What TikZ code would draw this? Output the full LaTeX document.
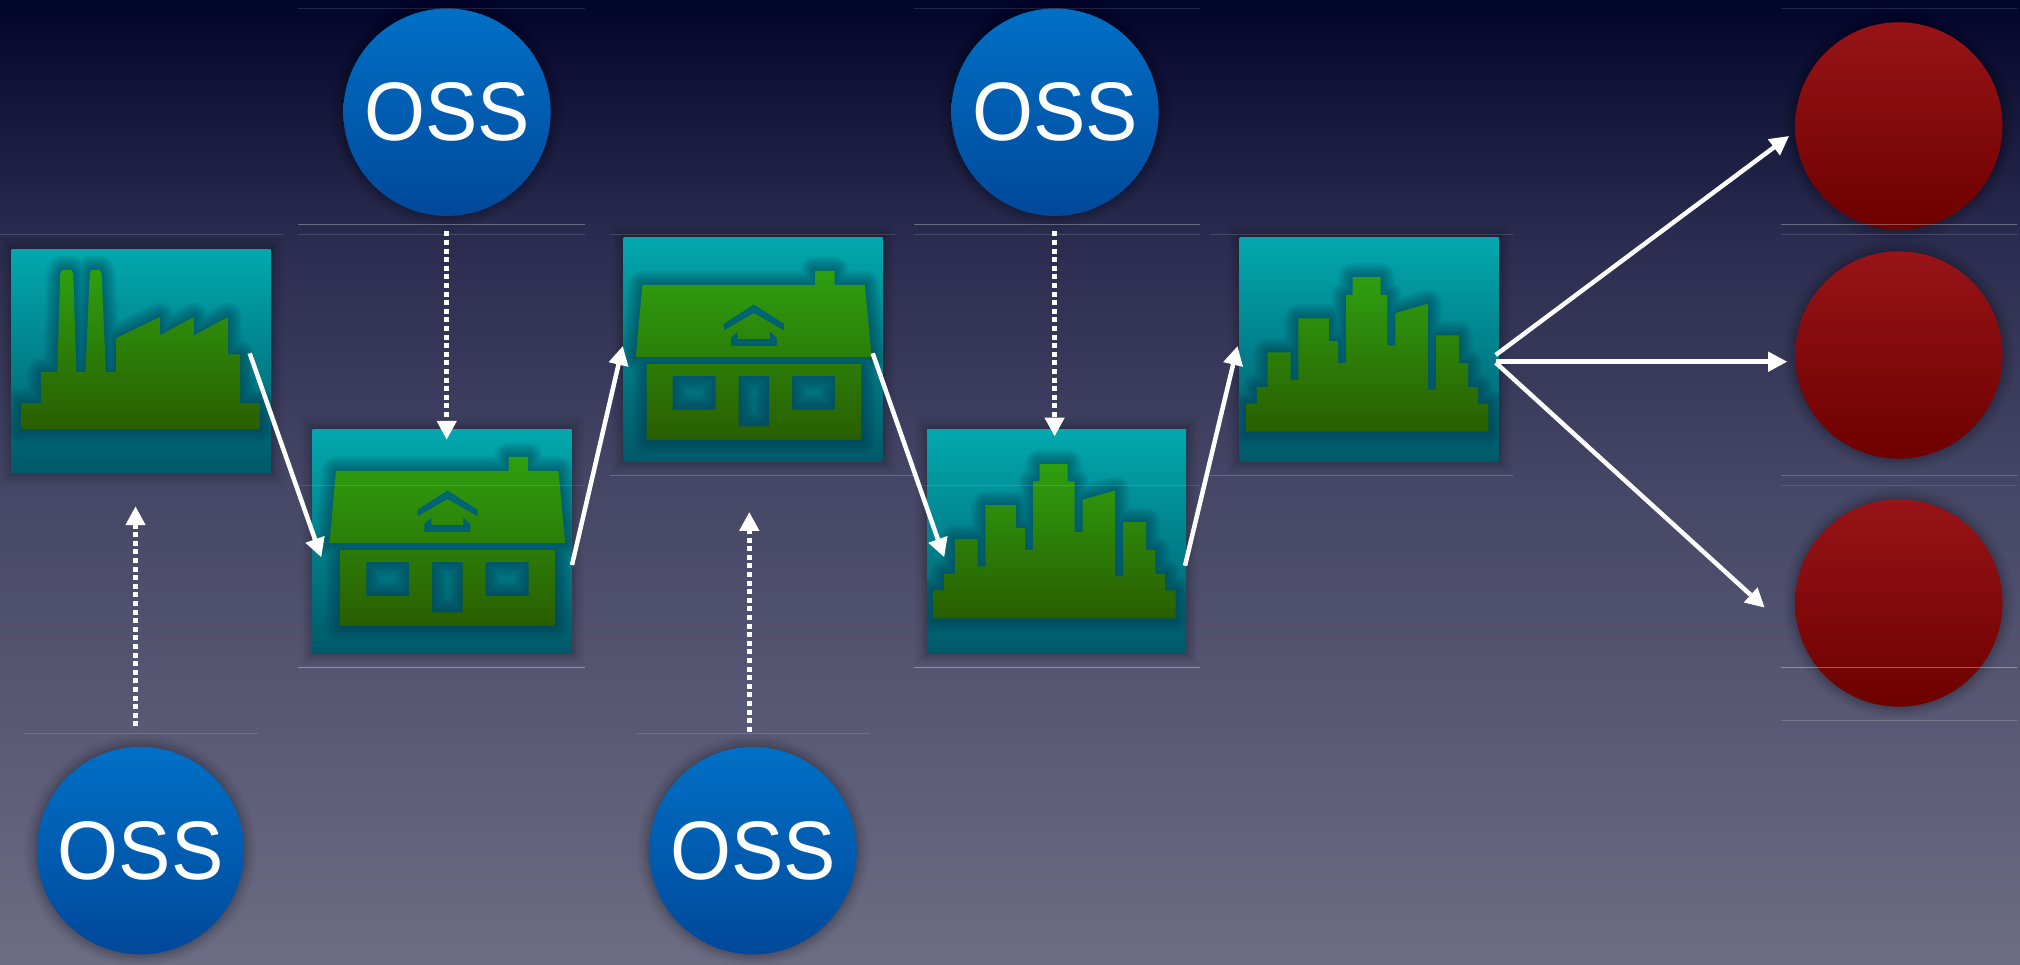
\documentclass[tikz,border=0pt]{standalone}
\usepackage{fontspec}
\usepackage{graphicx}
\setmainfont{Liberation Sans}
\usetikzlibrary{arrows.meta,calc}
\definecolor{bgA}{HTML}{02052A}
\definecolor{bgB}{HTML}{2A2B4E}
\definecolor{bgC}{HTML}{454665}
\definecolor{bgD}{HTML}{6C6C84}
\definecolor{panelTop}{HTML}{02A8AE}
\definecolor{panelBot}{HTML}{005868}
\definecolor{leafTop}{HTML}{2E9F10}
\definecolor{leafBot}{HTML}{2A5E00}
\definecolor{iconShade}{HTML}{003A4E}
\definecolor{ossTop}{HTML}{0070C6}
\definecolor{ossBot}{HTML}{00489A}
\definecolor{redTop}{HTML}{971418}
\definecolor{redBot}{HTML}{6E0000}
\tikzset{
  softedge/.style={
    preaction={draw=black,draw opacity=.035,line width=24pt},
    preaction={draw=black,draw opacity=.04,line width=18pt},
    preaction={draw=black,draw opacity=.045,line width=13pt},
    preaction={draw=black,draw opacity=.05,line width=8pt},
    preaction={draw=black,draw opacity=.06,line width=4pt}},
  panel/.style={rectangle,minimum width=259pt,minimum height=224pt,inner sep=0pt,
    top color=panelTop,bottom color=panelBot,softedge},
  ossdisc/.style={circle,minimum size=207.4pt,inner sep=0pt,
    top color=ossTop,bottom color=ossBot,text=white,softedge,
    font=\fontsize{83}{83}\selectfont},
  reddisc/.style={circle,minimum size=207.4pt,inner sep=0pt,
    top color=redTop,bottom color=redBot,softedge},
  flow/.style={draw=white,line width=4.5pt,-{Triangle[length=19pt,width=19pt]}},
  dotflow/.style={draw=white,line width=4.6pt,dash pattern=on 5pt off 3.6pt,
    -{Triangle[length=19pt,width=19pt]}},
  hair/.style={draw=white,line width=.8pt,draw opacity=#1},
}
\newcommand\factorypath{(55,628) -- (55,550) -- (108,550) -- (108,457) -- (150,457)
  -- (158,162) -- (164,150) -- (186,150) -- (192,162) -- (200,457) -- (224,457)
  -- (235,162) -- (240,150) -- (261,150) -- (266,162) -- (277,457) -- (304,457)
  -- (304,355) -- (418,292) -- (418,347) -- (507,292) -- (507,347) -- (596,292)
  -- (596,404) -- (628,404) -- (628,550) -- (681,550) -- (681,628) -- cycle}
\newcommand\housepath{(877,753) -- (1328,753) -- (1328,711) -- (1379,711) -- (1379,753)
  -- (1458,753) -- (1476,970) -- (860,970) -- cycle
  (1090,870) -- (1168,812) -- (1247,870) -- (1247,890) -- (1168,838) -- (1090,890) -- cycle
  (1108,936) -- (1108,912) -- (1126,893) -- (1126,915) -- (1210,915) -- (1210,893)
  -- (1228,912) -- (1228,936) -- cycle
  (888,991) rectangle (1449,1218)
  (956,1026) rectangle (1068,1128)
  (1128,1026) rectangle (1208,1178)
  (1268,1026) rectangle (1380,1128)}
\newcommand\citypath{(873,1196) -- (873,1112) -- (900,1112) -- (900,1062) -- (928,1062)
  -- (928,958) -- (988,958) -- (988,1040) -- (1008,1040) -- (1008,856) -- (1088,856)
  -- (1088,924) -- (1112,924) -- (1112,990) -- (1133,990) -- (1133,785) -- (1150,785)
  -- (1150,732) -- (1223,732) -- (1223,785) -- (1241,785) -- (1241,937) -- (1262,937)
  -- (1262,840) -- (1347,812) -- (1347,1070) -- (1368,1070) -- (1368,907) -- (1428,907)
  -- (1428,990) -- (1452,990) -- (1452,1062) -- (1478,1062) -- (1478,1112) -- (1505,1112)
  -- (1505,1196) -- cycle}
% #1 panel node, #2 #3 the panel's corner in the icon's own units, #4 outline
\newcommand\iconin[4]{%
  \begin{scope}
    \clip (#1.south west) rectangle (#1.north east);
    \begin{scope}[shift={(#1.north west)},x=.3827pt,y=-.3333pt,shift={(-#2,-#3)}]
      \foreach \w in {28,24,20,16,12,8,4}{
        \draw[draw=iconShade,line width=\w pt,draw opacity=.09,line join=round] #4;}
      \shade[even odd rule,top color=leafTop,bottom color=leafBot] #4;
    \end{scope}
  \end{scope}}
\newcommand\ossword{\scalebox{.945}[1]{OSS}}
\begin{document}
\begin{tikzpicture}[x=1pt,y=-1pt]
\useasboundingbox (0,0) rectangle (2020,965);
% background
\shade[top color=bgC,bottom color=bgD] (0,480) rectangle (2020,965);
\shade[top color=bgB,bottom color=bgC] (0,234) rectangle (2020,481);
\shade[top color=bgA,bottom color=bgB] (0,0) rectangle (2020,235);
% discs
\node[ossdisc] (ossT1) at (447,112.2) {\ossword};
\node[ossdisc] (ossT2) at (1055,112.2) {\ossword};
\node[ossdisc] (ossB1) at (140.5,850.7) {\ossword};
\node[ossdisc] (ossB2) at (753,850.7) {\ossword};
\node[reddisc] (red1) at (1898.8,126) {};
\node[reddisc] (red2) at (1898.8,355) {};
\node[reddisc] (red3) at (1898.8,603) {};
% panels
\node[panel] (box1) at (141,361.3) {};
\node[panel] (box2) at (442,541.3) {};
\node[panel] (box3) at (753,349.3) {};
\node[panel] (box4) at (1056.5,541.3) {};
\node[panel] (box5) at (1369,349.3) {};
\iconin{box1}{30}{88}{\factorypath}
\iconin{box2}{815}{628}{\housepath}
\iconin{box3}{827}{610}{\housepath}
\iconin{box4}{855}{628}{\citypath}
\iconin{box5}{854}{612}{\citypath}
% connectors
\draw[flow] ($(box1.east)+(-21,-8)$) -- ($(box2.west)+(9,16)$);
\draw[flow] ($(box2.east)+(.3,23.7)$) -- ($(box3.west)+(-.5,-3.3)$);
\draw[flow] ($(box3.east)+(-10,4)$) -- ($(box4.west)+(17.4,16)$);
\draw[flow] ($(box4.east)+(-1.2,24.4)$) -- ($(box5.west)+(-1.8,-3.3)$);
\draw[flow] ($(box5.east)+(-3,5.7)$) -- ($(red1.west)+(-5.8,10)$);
\draw[flow] ($(box5.east)+(-3,12.4)$) -- ($(red2.west)+(-7.7,6.7)$);
\draw[flow] ($(box5.east)+(-3,13.4)$) -- ($(red3.west)+(-30.2,4.7)$);
\draw[dotflow] ($(ossT1.south)+(-.3,15.3)$) -- ($(box2.north)+(4.7,10.7)$);
\draw[dotflow] ($(ossT2.south)+(-.4,15.3)$) -- ($(box4.north)+(-1.9,7.4)$);
\draw[dotflow] ($(ossB1.north)+(-5,-20.5)$) -- ($(box1.south)+(-5.5,32.7)$);
\draw[dotflow] ($(ossB2.north)+(-3.7,-15)$) -- ($(box3.south)+(-3.7,50.4)$);
% faint rules
\foreach \a/\b in {298/585,914/1200,1781/2017}{
  \draw[hair=.12] (\a,8.3) -- (\b,8.3);
  \draw[hair=.3] (\a,224.3) -- (\b,224.3);
  \draw[hair=.35] (\a,667.3) -- (\b,667.3);
  \draw[hair=.12] (\a,485.7) -- (\b,485.7);}
\foreach \a/\b in {0/283,298/585,610/895,914/1200,1210/1513,1781/2017}{
  \draw[hair=.14] (\a,234.3) -- (\b,234.3);}
\foreach \a/\b in {610/914,1210/1513,1781/2017}{
  \draw[hair=.2] (\a,475.3) -- (\b,475.3);}
\draw[hair=.18] (1781,720.3) -- (2017,720.3);
\draw[hair=.14] (23,733.3) -- (258,733.3);
\draw[hair=.14] (637,733.3) -- (870,733.3);
\end{tikzpicture}
\end{document}
